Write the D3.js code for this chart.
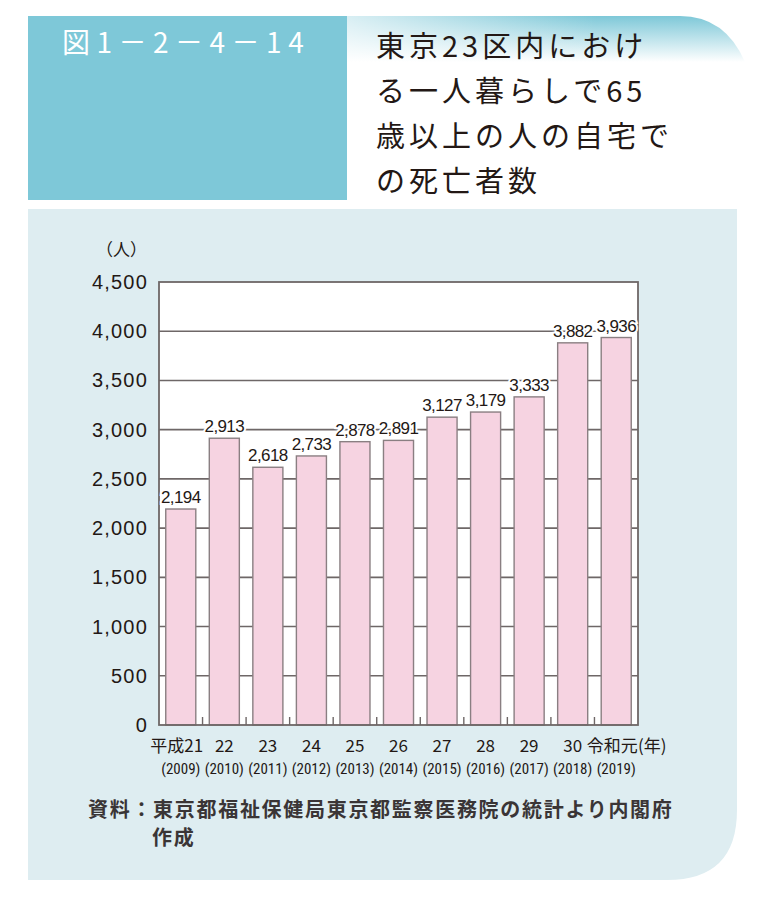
<!DOCTYPE html>
<html>
<head>
<meta charset="utf-8">
<script src="https://cdn.jsdelivr.net/npm/d3@7"></script>
<style>
  body { margin: 0; background: #fff; }
  text { font-family: "Liberation Sans", Arial, sans-serif; }
</style>
</head>
<body>
<script>
// data
var eraLabels = ["平成21", "22", "23", "24", "25", "26", "27", "28", "29", "30", "令和元"];
var yearLabels = ["(2009)", "(2010)", "(2011)", "(2012)", "(2013)", "(2014)", "(2015)", "(2016)", "(2017)", "(2018)", "(2019)"];
var deaths = [2194, 2913, 2618, 2733, 2878, 2891, 3127, 3179, 3333, 3882, 3936];
var yTicks = [0, 500, 1000, 1500, 2000, 2500, 3000, 3500, 4000, 4500];
var titleLines = ["東京23区内におけ", "る一人暮らしで65", "歳以上の人の自宅で", "の死亡者数"];

var W = 760, H = 900;
var svg = d3.select("body").append("svg").attr("width", W).attr("height", H);

var defs = svg.append("defs");
var grad = defs.append("linearGradient").attr("id", "topfade")
  .attr("x1", 0).attr("y1", 0).attr("x2", 0).attr("y2", 1);
grad.append("stop").attr("offset", "0%").attr("stop-color", "#7ec8d8");
grad.append("stop").attr("offset", "100%").attr("stop-color", "#ffffff");
var grad2 = defs.append("linearGradient").attr("id", "sidefade")
  .attr("x1", 0).attr("y1", 0).attr("x2", 1).attr("y2", 0);
grad2.append("stop").attr("offset", "0%").attr("stop-color", "#ffffff").attr("stop-opacity", 0.7);
grad2.append("stop").attr("offset", "100%").attr("stop-color", "#ffffff").attr("stop-opacity", 0);

// header
svg.append("path")
  .attr("d", "M347,16 L680,16 Q725,16 745,62 L347,62 Z")
  .attr("fill", "url(#topfade)");
svg.append("rect").attr("x", 347).attr("y", 16).attr("width", 250).attr("height", 46).attr("fill", "url(#sidefade)");
svg.append("rect").attr("x", 28).attr("y", 16).attr("width", 319).attr("height", 184).attr("fill", "#7ec8d8");
svg.append("text").attr("x", 62).attr("y", 53)
  .attr("fill", "#fff").attr("font-size", 28).attr("letter-spacing", 6.5)
  .style("font-family", "'Noto Sans CJK JP', sans-serif")
  .text("図1－2－4－14");

svg.selectAll("text.title").data(titleLines).enter().append("text")
  .attr("class", "title")
  .attr("x", 376).attr("y", function(d, i) { return 57 + i * 45; })
  .attr("font-size", 29).attr("letter-spacing", 4).attr("fill", "#231815")
  .style("font-family", "'Noto Sans CJK JP', sans-serif")
  .text(function(d) { return d; });

// panel
svg.append("path")
  .attr("d", "M28,209 L737,209 L737,810 Q737,880 667,880 L28,880 Z")
  .attr("fill", "#deedf1");

// chart
var pLeft = 159, pRight = 638, pTop = 282, pBottom = 725;
var x = d3.scaleBand().domain(d3.range(deaths.length)).range([pLeft, pRight]).paddingInner(0.31).paddingOuter(0.155);
var xb = d3.scaleBand().domain(d3.range(deaths.length)).range([pLeft, pRight]);
var y = d3.scaleLinear().domain([0, 4500]).range([pBottom, pTop]);

svg.append("rect").attr("x", pLeft).attr("y", pTop).attr("width", pRight - pLeft).attr("height", pBottom - pTop).attr("fill", "#fff");

svg.selectAll("line.grid").data(yTicks.slice(1, -1)).enter().append("line")
  .attr("class", "grid")
  .attr("x1", pLeft).attr("x2", pRight)
  .attr("y1", function(d) { return y(d); }).attr("y2", function(d) { return y(d); })
  .attr("stroke", "#6e6767").attr("stroke-width", 1.6);

// separators at the bottom between bars
svg.selectAll("line.sep").data(d3.range(1, deaths.length)).enter().append("line")
  .attr("class", "sep")
  .attr("x1", function(d) { return xb(d); }).attr("x2", function(d) { return xb(d); })
  .attr("y1", pBottom).attr("y2", pBottom - 8)
  .attr("stroke", "#6e6767").attr("stroke-width", 1.4);

svg.selectAll("rect.bar").data(deaths).enter().append("rect")
  .attr("class", "bar")
  .attr("x", function(d, i) { return x(i); })
  .attr("y", function(d) { return y(d); })
  .attr("width", x.bandwidth())
  .attr("height", function(d) { return pBottom - y(d); })
  .attr("fill", "#f6d3e1").attr("stroke", "#8a7f82").attr("stroke-width", 1.4);

svg.append("rect").attr("x", pLeft).attr("y", pTop).attr("width", pRight - pLeft).attr("height", pBottom - pTop)
  .attr("fill", "none").attr("stroke", "#6e6767").attr("stroke-width", 1.8);

// value labels
var fmt = d3.format(",");
svg.selectAll("text.val").data(deaths).enter().append("text")
  .attr("class", "val")
  .attr("x", function(d, i) { return x(i) + x.bandwidth() / 2; })
  .attr("y", function(d) { return y(d) - 6; })
  .attr("text-anchor", "middle").attr("font-size", 17).attr("letter-spacing", -0.6)
  .attr("fill", "#231815")
  .attr("stroke", "#fff").attr("stroke-width", 4).attr("paint-order", "stroke")
  .text(function(d) { return fmt(d); });

// y axis labels
svg.selectAll("text.ylab").data(yTicks).enter().append("text")
  .attr("class", "ylab")
  .attr("x", 148).attr("y", function(d) { return y(d) + 7; })
  .attr("text-anchor", "end").attr("font-size", 20).attr("letter-spacing", 1.2)
  .attr("fill", "#231815")
  .text(function(d) { return fmt(d); });
svg.append("text").attr("x", 96).attr("y", 256).attr("font-size", 17).attr("fill", "#231815")
  .style("font-family", "'Noto Sans CJK JP', sans-serif").text("（人）");

// x labels
svg.selectAll("text.era").data(eraLabels).enter().append("text")
  .attr("class", "era")
  .attr("x", function(d, i) { return xb(i) + xb.bandwidth() / 2 - (i == 0 ? 4 : 0) - (i == 10 ? 4 : 0); })
  .attr("y", 752).attr("text-anchor", "middle").attr("font-size", 17)
  .attr("fill", "#231815")
  .style("font-family", "'Noto Sans CJK JP', sans-serif")
  .text(function(d) { return d; });
svg.append("text").attr("x", 638).attr("y", 752).attr("font-size", 17).attr("fill", "#231815")
  .style("font-family", "'Noto Sans CJK JP', sans-serif").text("(年)");
svg.selectAll("text.yr").data(yearLabels).enter().append("text")
  .attr("class", "yr")
  .attr("x", function(d, i) { return xb(i) + xb.bandwidth() / 2; })
  .attr("y", 774).attr("text-anchor", "middle").attr("font-size", 15)
  .attr("fill", "#231815")
  .style("font-family", "'Liberation Sans Narrow', 'Roboto Condensed', sans-serif")
  .text(function(d) { return d; });

// source
svg.append("text").attr("x", 88).attr("y", 817).attr("font-size", 20).attr("letter-spacing", 1.7)
  .attr("fill", "#3a3536").attr("font-weight", "bold")
  .style("font-family", "'Noto Sans CJK JP', serif")
  .text("資料：東京都福祉保健局東京都監察医務院の統計より内閣府");
svg.append("text").attr("x", 152).attr("y", 845).attr("font-size", 20).attr("letter-spacing", 1.7)
  .attr("fill", "#3a3536").attr("font-weight", "bold")
  .style("font-family", "'Noto Sans CJK JP', serif")
  .text("作成");
</script>
</body>
</html>
